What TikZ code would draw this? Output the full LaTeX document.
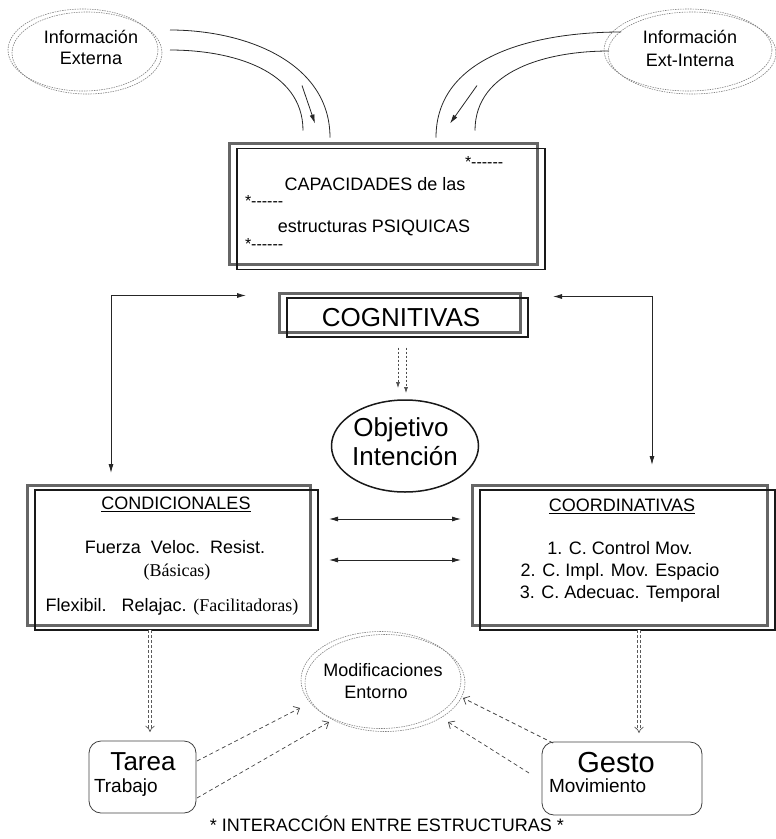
\documentclass[tikz,border=0pt]{standalone}
\usepackage{fontspec}
\setmainfont{Liberation Sans}
\newfontfamily\tnr{Liberation Serif}
\usetikzlibrary{shapes.geometric,shadows,arrows,arrows.meta}
\newcommand{\stardash}{*-{}-{}-{}-{}-{}-}

\begin{document}
\begin{tikzpicture}[x=1pt,y=-1pt,
  every node/.style={inner sep=0pt, outer sep=0pt},
  txt/.style={anchor=base, font=\fontsize{18}{21}\selectfont},
  dashtxt/.style={anchor=base west, font=\fontsize{16}{18}\selectfont},
  infoell/.style={ellipse, draw=black!50, dash pattern=on 1.5pt off 1pt, line width=.6pt,
    copy shadow={shadow xshift=4pt, shadow yshift=-3pt, draw=black!50, fill=none}},
  boxframe/.style={draw=black!90, line width=1.6pt,
    copy shadow={shadow xshift=-8pt, shadow yshift=5pt, draw=black!60, line width=3pt, fill=none}},
  soft/.style={draw=black!75, line width=.8pt, rounded corners=12pt},
  link/.style={draw=black!85, line width=.8pt},
  tipped/.style={link, -{Latex[length=9pt,width=5pt]}},
  twoway/.style={link, {Latex[length=9pt,width=5pt]}-{Latex[length=9pt,width=5pt]}},
  dsh/.style={draw=black!75, line width=.7pt, dash pattern=on 4pt off 3pt, -{Straight Barb[length=5pt,width=9pt]}},
  dshtwo/.style={draw=black!70, line width=.6pt, dash pattern=on 2.5pt off 1.5pt, -{Latex[length=6pt,width=4pt]}},
  dbl/.style={draw=black!65, line width=.7pt, double=white, double distance=2.5pt, dash pattern=on 3pt off 2pt, -{Implies}},
]
\useasboundingbox (0,0) rectangle (776,839);

% information
\node[infoell, minimum width=150pt, minimum height=82pt] (infoext) at (83,50) {};
\node[infoell, minimum width=168pt, minimum height=82pt] (infoint) at (688,50) {};
\node[txt] (infoextA) at (91,43.5) {Información};
\node[txt] (infoextB) at (91,64.5) {Externa};
\node[txt] (infointA) at (690,43.5) {Información};
\node[txt] (infointB) at (690,66) {Ext-Interna};

% capacities
\node[boxframe, minimum width=308pt, minimum height=121pt] (cap) at (391,209) {};
\node[txt] (capA) at (375,190.5) {CAPACIDADES de las};
\node[txt] (capB) at (374,232.5) {estructuras PSIQUICAS};
\node[dashtxt] (capS1) at (465,167) {\stardash};
\node[dashtxt] (capS2) at (245,206) {\stardash};
\node[dashtxt] (capS3) at (245,249) {\stardash};

\node[boxframe, minimum width=241pt, minimum height=39pt] (cog) at (407.5,317.5) {};
\node[txt, font=\fontsize{26}{29}\selectfont] (cogT) at (401,326.5) {COGNITIVAS};

\node[ellipse, draw=black!90, line width=1.5pt, minimum width=147pt, minimum height=92pt] (obj) at (405,446) {};
\node[txt, font=\fontsize{26}{29}\selectfont] (objA) at (401,436) {Objetivo};
\node[txt, font=\fontsize{26}{29}\selectfont] (objB) at (405,465) {Intención};

% conditional / coordinative
\node[boxframe, minimum width=283pt, minimum height=140pt] (cond) at (176.5,560) {};
\node[txt] (condT) at (176,509.5) {\underline{CONDICIONALES}};
\node[txt] (condA) at (175,553.5) {Fuerza\ \ Veloc.\ \ Resist.};
\node[txt, font=\tnr\fontsize{18}{21}\selectfont] (condB) at (177,576) {(Básicas)};
\node[txt] (condC) at (172,611) {Flexibil.\ \ \ Relajac. {\tnr(Facilitadoras)}};

\node[boxframe, minimum width=295pt, minimum height=140pt] (coord) at (627.5,560) {};
\node[txt] (coordT) at (622,511.5) {\underline{COORDINATIVAS}};
\node[txt] (coordA) at (620,554.5) {1. C. Control Mov.};
\node[txt] (coordB) at (620,576.5) {2. C. Impl. Mov. Espacio};
\node[txt] (coordC) at (620,598) {3. C. Adecuac. Temporal};

% environment, task, gesture
\node[infoell, minimum width=160pt, minimum height=97pt] (mod) at (381,680) {};
\node[txt] (modA) at (383,676.5) {Modificaciones};
\node[txt] (modB) at (376,698.5) {Entorno};

\node[soft, minimum width=107pt, minimum height=72pt] (tarea) at (142.5,777) {};
\node[txt, font=\fontsize{26}{29}\selectfont] (tareaA) at (143,770) {Tarea};
\node[txt, anchor=base west, font=\fontsize{19}{22}\selectfont] (tareaB) at (94,792) {Trabajo};
\node[soft, minimum width=160pt, minimum height=73pt] (gesto) at (622,778.5) {};
\node[txt, font=\fontsize{29}{32}\selectfont] (gestoA) at (616,772) {Gesto};
\node[txt, anchor=base west, font=\fontsize{19}{22}\selectfont] (gestoB) at (549,792) {Movimiento};

\node[txt] (title) at (387,831.5) {* INTERACCIÓN ENTRE ESTRUCTURAS *};

% connectors
\draw[link] ([shift={(12,-20)}]infoext.east) to[out=0,in=90] ([shift={(-61,-11)}]cap.north);
\draw[link] ([shift={(12,0)}]infoext.east) to[out=0,in=90] ([shift={(-88,-18)}]cap.north);
\draw[tipped] ([shift={(-89,-63)}]cap.north) -- ([shift={(-76,-25)}]cap.north);
\draw[link] ([shift={(17,-18)}]infoint.west) to[out=180,in=90] ([shift={(45,-11)}]cap.north);
\draw[link] ([shift={(5,1)}]infoint.west) to[out=180,in=90] ([shift={(84,-18)}]cap.north);
\draw[tipped] ([shift={(86,-63)}]cap.north) -- ([shift={(59,-25)}]cap.north);

\draw[twoway] ([shift={(-41,-22)}]cog.west) -| ([shift={(-65.5,-17)}]cond.north);
\draw[twoway] ([shift={(25,-21)}]cog.east) -| ([shift={(24.5,-25)}]coord.north);
\draw[dshtwo] ([shift={(-9.5,10.5)}]cog.south) -- ([shift={(-7,-12)}]obj.north);
\draw[dshtwo] ([shift={(-1.5,10.5)}]cog.south) -- ([shift={(1,-7)}]obj.north);

\draw[twoway] ([shift={(11,-41)}]cond.east) -- ([shift={(-19,-41)}]coord.west);
\draw[twoway] ([shift={(11,0)}]cond.east) -- ([shift={(-19,0)}]coord.west);

\draw[dbl] ([shift={(-26.5,0)}]cond.south) -- ([shift={(7.5,-9)}]tarea.north);
\draw[dbl] ([shift={(11.5,0)}]coord.south) -- ([shift={(17,-9)}]gesto.north);

\draw[dsh] ([shift={(1,-16)}]tarea.east) -- ([shift={(-81,28)}]mod.center);
\draw[dsh] ([shift={(1,21)}]tarea.east) -- ([shift={(-52,42)}]mod.center);
\draw[dsh] ([shift={(11,-35.5)}]gesto.west) -- ([shift={(82,18)}]mod.center);
\draw[dsh] ([shift={(-13,-5.5)}]gesto.west) -- ([shift={(67,42)}]mod.center);
\end{tikzpicture}
\end{document}
